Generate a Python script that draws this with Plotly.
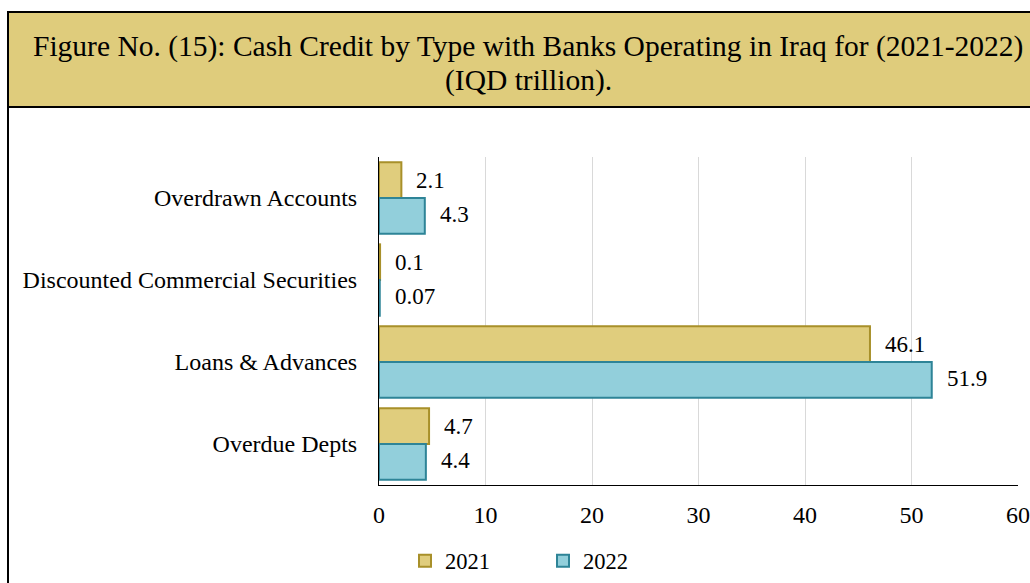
import plotly.graph_objects as go

# Cash credit by type (IQD trillion)
categories = ["Overdrawn Accounts", "Discounted Commercial Securities", "Loans & Advances", "Overdue Depts"]
values_2021 = [2.1, 0.1, 46.1, 4.7]
values_2022 = [4.3, 0.07, 51.9, 4.4]
labels_2021 = ["2.1", "0.1", "46.1", "4.7"]
labels_2022 = ["4.3", "0.07", "51.9", "4.4"]
x_ticks = [0, 10, 20, 30, 40, 50, 60]
title_lines = ["Figure No. (15): Cash Credit by Type with Banks Operating in Iraq for (2021-2022)",
               "(IQD trillion)."]

W, H = 1030, 583
FONT = "'Times New Roman', 'Liberation Serif', serif"

fig = go.Figure()
fig.add_trace(go.Bar(
    name="2021", y=categories, x=values_2021, orientation="h",
    marker=dict(color="#E0CD7D", line=dict(color="#A8902A", width=2)),
))
fig.add_trace(go.Bar(
    name="2022", y=categories, x=values_2022, orientation="h",
    marker=dict(color="#92CFDB", line=dict(color="#2E8497", width=2)),
))

# value labels to the right of each bar
annotations = []
for cat, v, t in zip(categories, values_2021, labels_2021):
    annotations.append(dict(x=v, y=cat, text=t, xref="x", yref="y", showarrow=False,
                            xanchor="left", xshift=13, yshift=17,
                            font=dict(family=FONT, size=23, color="black")))
for cat, v, t in zip(categories, values_2022, labels_2022):
    annotations.append(dict(x=v, y=cat, text=t, xref="x", yref="y", showarrow=False,
                            xanchor="left", xshift=13, yshift=-17,
                            font=dict(family=FONT, size=23, color="black")))

# two-line heading inside the banner
for line, yc in zip(title_lines, [47, 81]):
    annotations.append(dict(
        x=528 / W, y=1 - yc / H, xref="paper", yref="paper", showarrow=False,
        xanchor="center", yanchor="middle", text=line,
        font=dict(family=FONT, size=29.5, color="black"),
    ))

shapes = [
    # title banner
    dict(type="rect", xref="paper", yref="paper", x0=8 / W, x1=1.01, y0=1 - 107 / H, y1=1 - 12 / H,
         fillcolor="#DFCC7C", line=dict(color="black", width=2), layer="below"),
    # outer frame left edge
    dict(type="line", xref="paper", yref="paper", x0=8 / W, x1=8 / W, y0=-0.01, y1=1 - 107 / H,
         line=dict(color="black", width=2)),
]

fig.update_layout(
    width=W, height=H,
    margin=dict(l=0, r=0, t=0, b=0, autoexpand=False),
    paper_bgcolor="white", plot_bgcolor="white",
    barmode="group", bargap=0.13, bargroupgap=0,
    font=dict(family=FONT, size=23, color="black"),
    annotations=annotations, shapes=shapes,
    showlegend=True,
    legend=dict(orientation="h", x=405 / W, y=1 - 561 / H, xanchor="left", yanchor="middle",
                font=dict(family=FONT, size=22.5, color="black"),
                entrywidth=93, entrywidthmode="pixels",
                itemwidth=30, traceorder="normal", bgcolor="rgba(0,0,0,0)"),
    xaxis=dict(domain=[379 / W, 1018 / W], range=[0, 60], tickvals=x_ticks,
               showgrid=True, gridcolor="#D9D9D9", gridwidth=1,
               showline=True, linecolor="black", linewidth=1, automargin=False,
               zeroline=False, ticks="", ticklabelstandoff=8,
               tickfont=dict(family=FONT, size=24, color="black")),
    yaxis=dict(domain=[1 - 485 / H, 1 - 157 / H], autorange="reversed",
               categoryorder="array", categoryarray=categories, automargin=False,
               showline=True, linecolor="black", linewidth=1, showgrid=False,
               ticks="", ticklabelstandoff=16,
               tickfont=dict(family=FONT, size=24, color="black")),
)

fig.write_html("out.html")
